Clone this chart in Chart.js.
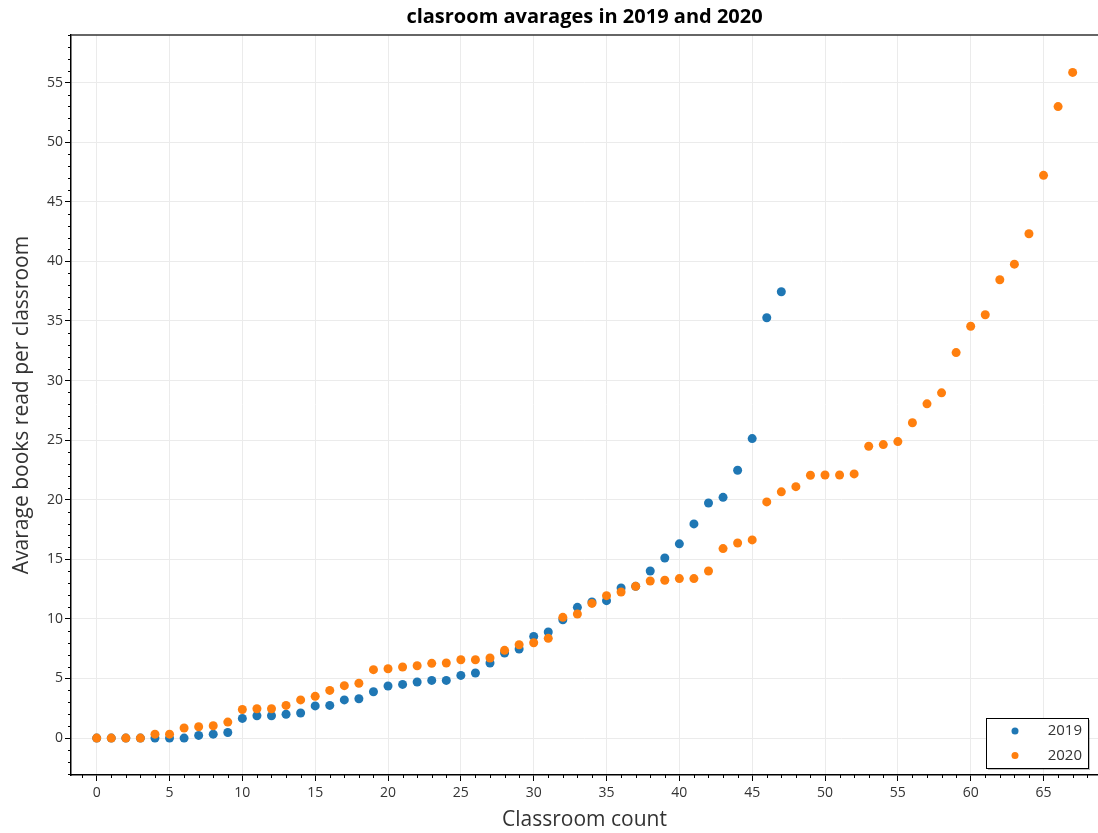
<!DOCTYPE html>
<html>
<head>
<meta charset="utf-8">
<title>clasroom avarages in 2019 and 2020</title>
<script src="https://cdn.jsdelivr.net/npm/chart.js@4/dist/chart.umd.min.js"></script>
<style>
  html, body { margin: 0; padding: 0; background: #fff; }
  #wrap { width: 1098px; height: 833px; position: relative; }
</style>
</head>
<body>
<div id="wrap"><canvas id="chart"></canvas></div>
<script>
// average books read per classroom, sorted, one value per classroom
const seriesLabels = ["2019", "2020"];
const books2019 = [
  0, 0, 0, 0, 0, 0, 0, 0.22, 0.33, 0.47,
  1.65, 1.87, 1.87, 2.0, 2.1, 2.7, 2.74, 3.2, 3.3, 3.89,
  4.37, 4.5, 4.7, 4.84, 4.84, 5.26, 5.46, 6.3, 7.14, 7.47,
  8.53, 8.9, 9.93, 10.97, 11.42, 11.53, 12.6, 12.73, 14.02, 15.11,
  16.3, 17.97, 19.73, 20.2, 22.47, 25.13, 35.27, 37.45
];
const books2020 = [
  0, 0, 0, 0, 0.33, 0.33, 0.84, 0.95, 1.03, 1.34,
  2.4, 2.46, 2.46, 2.74, 3.2, 3.5, 4.0, 4.4, 4.6, 5.74,
  5.82, 5.96, 6.07, 6.27, 6.3, 6.57, 6.57, 6.72, 7.36, 7.83,
  8.0, 8.37, 10.13, 10.41, 11.3, 11.95, 12.26, 12.73, 13.18, 13.24,
  13.38, 13.38, 14.02, 15.9, 16.37, 16.63, 19.82, 20.66, 21.1, 22.05,
  22.08, 22.08, 22.17, 24.49, 24.63, 24.88, 26.46, 28.05, 28.97, 32.35,
  34.56, 35.52, 38.46, 39.77, 42.32, 47.22, 52.99, 55.86
];
const seriesColors = ["#1f77b4", "#ff7f0e"];
const majorStep = 5;

const FONT = "'Open Sans', 'DejaVu Sans', sans-serif";
const toPoints = vals => vals.map((v, i) => ({ x: i, y: v }));

// short minor ticks every unit, plus the top frame line
const frameTicks = {
  id: "frameTicks",
  afterDraw(chart) {
    const { ctx, chartArea: a, scales: { x, y } } = chart;
    ctx.save();
    ctx.strokeStyle = "#000";
    ctx.lineWidth = 1;
    ctx.beginPath();
    for (let v = Math.ceil(x.min); v <= x.max; v++) {
      if (v % majorStep === 0) continue;
      const px = Math.round(x.getPixelForValue(v)) + 0.5;
      ctx.moveTo(px, a.bottom);
      ctx.lineTo(px, a.bottom + 3);
    }
    for (let v = Math.ceil(y.min); v <= y.max; v++) {
      if (v % majorStep === 0) continue;
      const py = Math.round(y.getPixelForValue(v)) + 0.5;
      ctx.moveTo(a.left - 3, py);
      ctx.lineTo(a.left, py);
    }
    ctx.stroke();
    ctx.strokeStyle = "#333";
    ctx.lineWidth = 1.5;
    ctx.beginPath();
    ctx.moveTo(a.left, a.top);
    ctx.lineTo(a.right, a.top);
    ctx.stroke();
    ctx.restore();
  }
};

// boxed legend in the lower right corner of the plot
const cornerLegend = {
  id: "cornerLegend",
  afterDraw(chart) {
    const { ctx, chartArea: a } = chart;
    const w = 102, h = 50;
    const left = a.right - 10 - w, top = a.bottom - 7 - h;
    ctx.save();
    ctx.fillStyle = "rgba(0,0,0,0.25)";
    ctx.fillRect(left + 2, top + 2, w, h);
    ctx.fillStyle = "#fff";
    ctx.fillRect(left, top, w, h);
    ctx.strokeStyle = "#000";
    ctx.lineWidth = 1;
    ctx.strokeRect(left + 0.5, top + 0.5, w, h);
    ctx.font = "15px " + FONT;
    ctx.textAlign = "right";
    ctx.textBaseline = "middle";
    chart.data.datasets.forEach((ds, i) => {
      const cy = top + 13 + i * 24.5;
      ctx.fillStyle = ds.backgroundColor;
      ctx.beginPath();
      ctx.arc(left + 29, cy, 3.5, 0, Math.PI * 2);
      ctx.fill();
      ctx.fillStyle = "#333";
      ctx.fillText(ds.label, left + w - 6, cy);
    });
    ctx.restore();
  }
};

const axisCommon = {
  type: "linear",
  border: { display: true, color: "#000", width: 1.5 },
  grid: { color: "#ebebeb", lineWidth: 1, tickLength: 6, tickColor: "#000", drawTicks: true },
  ticks: { stepSize: majorStep, includeBounds: false, color: "#333", font: { family: FONT, size: 14 } }
};

new Chart(document.getElementById("chart"), {
  type: "scatter",
  data: {
    datasets: [
      { label: seriesLabels[0], data: toPoints(books2019), backgroundColor: seriesColors[0], order: 1 },
      { label: seriesLabels[1], data: toPoints(books2020), backgroundColor: seriesColors[1], order: 0 }
    ]
  },
  options: {
    responsive: true,
    maintainAspectRatio: false,
    animation: false,
    layout: { padding: 0, autoPadding: false },
    elements: { point: { radius: 4.5, hoverRadius: 4.5, borderWidth: 0 } },
    plugins: {
      legend: { display: false },
      tooltip: { enabled: false },
      title: {
        display: true,
        fullSize: false,
        text: "clasroom avarages in 2019 and 2020",
        color: "#000",
        font: { family: FONT, size: 20, weight: "bold" },
        padding: { top: 5, bottom: 6 }
      }
    },
    scales: {
      x: {
        ...axisCommon,
        position: "bottom",
        min: -1.764, max: 68.74,
        ticks: { ...axisCommon.ticks, padding: 4 },
        title: { display: true, text: "Classroom count", color: "#333", font: { family: FONT, size: 21 }, padding: { top: 0, bottom: 0 } },
        afterFit(scale) { scale.height = 58; }
      },
      y: {
        ...axisCommon,
        position: "left",
        min: -3.1, max: 59.0,
        ticks: { ...axisCommon.ticks, padding: 2 },
        title: { display: true, text: "Avarage books read per classroom", color: "#333", font: { family: FONT, size: 21 }, padding: { top: 9, bottom: 0 } },
        afterFit(scale) { scale.width = 71; }
      }
    }
  },
  plugins: [frameTicks, cornerLegend]
});
</script>
</body>
</html>
